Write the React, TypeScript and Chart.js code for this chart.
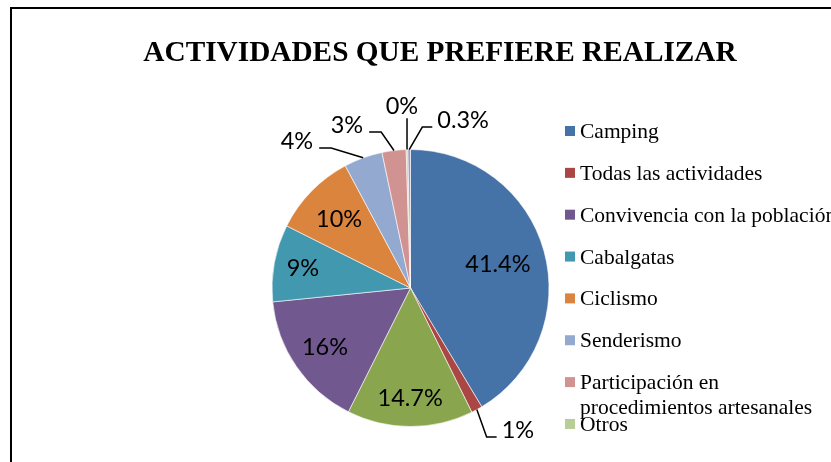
import React, { useEffect, useRef } from "react";
import { Chart, registerables } from "chart.js";

Chart.register(...registerables);

const title = "ACTIVIDADES QUE PREFIERE REALIZAR";
const categories = [
  "Camping",
  "Todas las actividades",
  "Categoría 3",
  "Convivencia con la población",
  "Cabalgatas",
  "Ciclismo",
  "Senderismo",
  "Participación en procedimientos artesanales",
  "Otros",
  "Categoría 10",
];
const values = [41.4, 1.3, 14.7, 16, 9, 9.8, 4.5, 2.8, 0.2, 0.3];
const valueLabels = ["41.4%", "1%", "14.7%", "16%", "9%", "10%", "4%", "3%", "0%", "0.3%"];
const colors = [
  "#4572A7",
  "#AA4643",
  "#89A54E",
  "#71588F",
  "#4198AF",
  "#DB843D",
  "#93A9CF",
  "#D19392",
  "#B9CD96",
  "#A99BBD",
];
const legendHidden = [2, 9];

type LabelCfg =
  | { type: "in"; f: number }
  | { type: "out"; deg: number; dist: number; side: "left" | "right" | "up" };

const labelLayout: LabelCfg[] = [
  { type: "in", f: 0.655 },
  { type: "out", deg: 142.9, dist: 178, side: "right" },
  { type: "in", f: 0.79 },
  { type: "in", f: 0.75 },
  { type: "in", f: 0.79 },
  { type: "in", f: 0.72 },
  { type: "out", deg: 322.3, dist: 185.7, side: "left" },
  { type: "out", deg: 338.7, dist: 175, side: "left" },
  { type: "out", deg: 357.3, dist: 183, side: "up" },
  { type: "out", deg: 17.4, dist: 176, side: "right" },
];

function wrapText(ctx: CanvasRenderingContext2D, text: string, maxW: number): string[] {
  const words = text.split(" ");
  const lines: string[] = [];
  let cur = "";
  for (const w of words) {
    const t = cur ? cur + " " + w : w;
    if (ctx.measureText(t).width > maxW && cur) {
      lines.push(cur);
      cur = w;
    } else cur = t;
  }
  if (cur) lines.push(cur);
  return lines;
}

const decorPlugin = {
  id: "excelDecor",
  afterDraw(chart: any) {
    const ctx: CanvasRenderingContext2D = chart.ctx;
    ctx.save();

    // frame
    ctx.strokeStyle = "#000";
    ctx.lineWidth = 2;
    ctx.beginPath();
    ctx.moveTo(11, 470);
    ctx.lineTo(11, 8);
    ctx.lineTo(840, 8);
    ctx.stroke();

    // title
    ctx.fillStyle = "#000";
    ctx.font = 'bold 29.3px "Liberation Serif", "Times New Roman", serif';
    ctx.textAlign = "center";
    ctx.textBaseline = "alphabetic";
    ctx.fillText(title, 440, 61);

    // legend
    ctx.font = '21.5px "Liberation Serif", "Times New Roman", serif';
    ctx.textAlign = "left";
    let row = 0;
    const y0 = 131;
    const step = 41.85;
    categories.forEach((cat, i) => {
      if (legendHidden.includes(i)) return;
      const cy = y0 + row * step;
      ctx.fillStyle = colors[i];
      ctx.fillRect(565, cy - 5, 10, 10);
      ctx.fillStyle = "#000";
      const lines = wrapText(ctx, cat, 262);
      lines.forEach((ln, k) => {
        ctx.fillText(ln, 580, cy + 7 + k * 25);
      });
      row++;
    });

    // data labels
    const meta = chart.getDatasetMeta(0);
    ctx.font = '23.5px Lato, "Liberation Sans", sans-serif';
    ctx.strokeStyle = "#000";
    ctx.lineWidth = 1.5;
    meta.data.forEach((arc: any, i: number) => {
      const cfg = labelLayout[i];
      const text = valueLabels[i];
      const mid = (arc.startAngle + arc.endAngle) / 2;
      const cx0 = arc.x;
      const cy0 = arc.y;
      const r = arc.outerRadius;
      const tw = ctx.measureText(text).width;
      let tx: number, ty: number;
      if (cfg.type === "in") {
        tx = cx0 + Math.cos(mid) * r * cfg.f;
        ty = cy0 + Math.sin(mid) * r * cfg.f;
      } else {
        const a = ((cfg.deg - 90) * Math.PI) / 180;
        tx = cx0 + Math.cos(a) * cfg.dist;
        ty = cy0 + Math.sin(a) * cfg.dist;
        const ex = cx0 + Math.cos(mid) * r;
        const ey = cy0 + Math.sin(mid) * r;
        ctx.beginPath();
        if (cfg.side === "left") {
          const endX = tx + tw / 2 + 6;
          const ly = ty + 7;
          ctx.moveTo(ex, ey);
          ctx.lineTo(endX + 12, ly);
          ctx.lineTo(endX, ly);
        } else if (cfg.side === "right") {
          const endX = tx - tw / 2 - 5;
          const ly = ty + 7;
          ctx.moveTo(ex, ey);
          ctx.lineTo(endX - 10, ly);
          ctx.lineTo(endX, ly);
        } else {
          ctx.moveTo(ex, ey);
          ctx.lineTo(ex, ty + 13);
        }
        ctx.stroke();
      }
      ctx.fillStyle = "#000";
      ctx.textAlign = "center";
      ctx.textBaseline = "alphabetic";
      ctx.fillText(text, tx, ty + 8.3);
    });

    ctx.restore();
  },
};

export default function App() {
  const ref = useRef<HTMLCanvasElement | null>(null);
  useEffect(() => {
    if (!ref.current) return;
    const chart = new Chart(ref.current, {
      type: "pie",
      data: {
        labels: categories,
        datasets: [
          {
            data: values,
            backgroundColor: colors,
            borderColor: "#ffffff",
            borderWidth: 0.6,
            radius: 138.5,
          } as any,
        ],
      },
      options: {
        responsive: false,
        animation: false,
        layout: { padding: { left: 0, right: 10, top: 114, bottom: 0 } },
        plugins: {
          legend: { display: false },
          title: { display: false },
          tooltip: { enabled: false },
        },
      },
      plugins: [decorPlugin],
    });
    return () => chart.destroy();
  }, []);
  return (
    <div
      style={{
        position: "fixed",
        left: 0,
        top: 0,
        width: 831,
        height: 462,
        overflow: "hidden",
        background: "#fff",
      }}
    >
      <canvas ref={ref} width={831} height={462} style={{ display: "block" }} />
    </div>
  );
}
